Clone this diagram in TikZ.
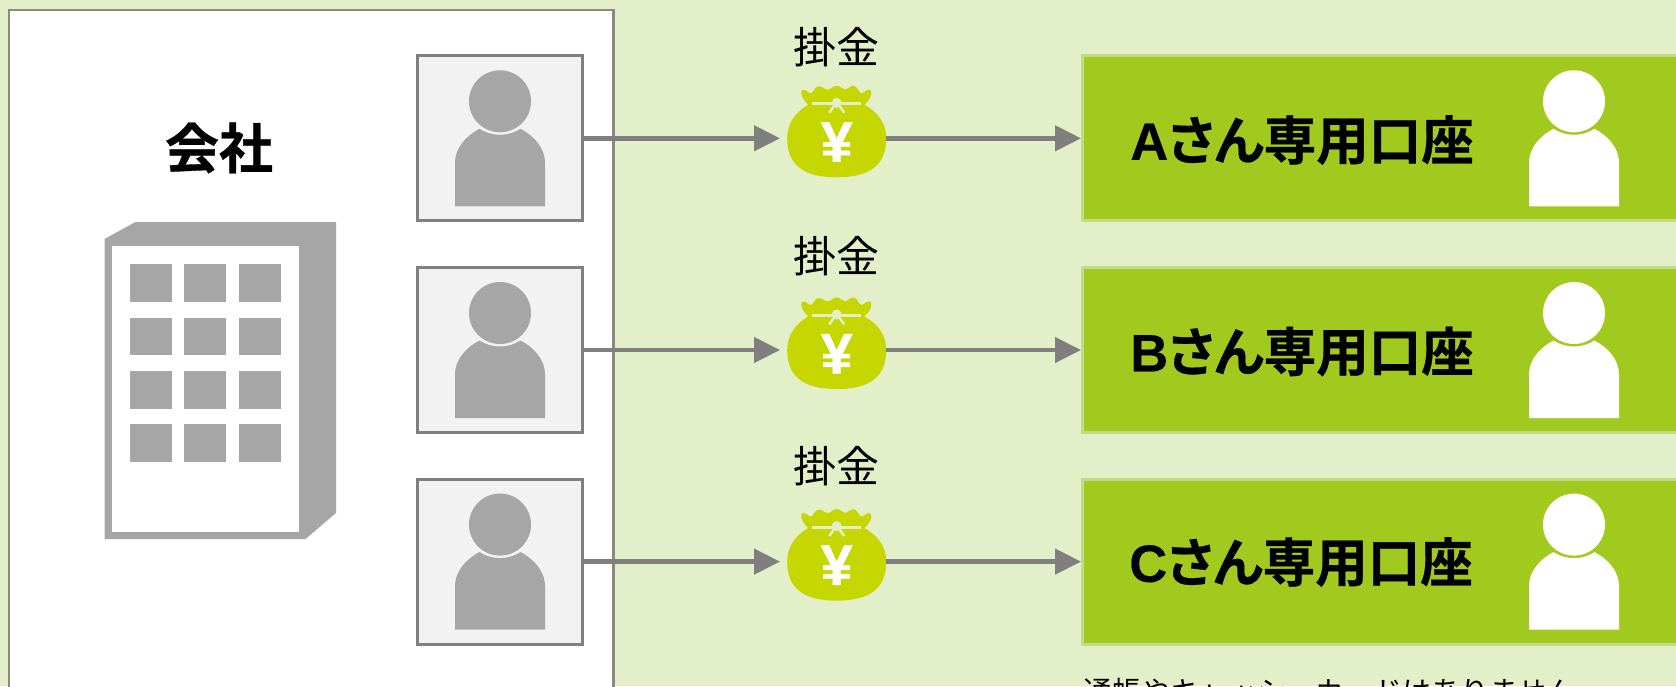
\documentclass[tikz,border=0pt]{standalone}
\usepackage{fontspec}
\setmainfont{Liberation Sans}
\newfontfamily\jpb[RawFeature=+palt,FakeBold=0.6]{Noto Sans CJK JP Bold}
\newfontfamily\jpr{Noto Sans CJK JP}
\newfontfamily\lat[FakeBold=0.3]{Liberation Sans Bold}
\newfontfamily\yenf[FakeBold=1.0]{Liberation Sans Bold}
\usetikzlibrary{arrows.meta}
\definecolor{bgc}{HTML}{E2EFC8}
\definecolor{framec}{HTML}{8A8A80}
\definecolor{grayf}{HTML}{A6A6A6}
\definecolor{boxf}{HTML}{F2F2F2}
\definecolor{lineg}{HTML}{7F7F7F}
\definecolor{acct}{HTML}{A2C91D}
\definecolor{acctb}{HTML}{C3DB86}
\definecolor{bagc}{HTML}{C5D600}
\tikzset{
  x=1pt,y=-1pt,
  empbox/.style={draw=lineg,fill=boxf,line width=3pt,minimum width=165pt,minimum height=165pt,inner sep=0pt},
  acctbox/.style={draw=acctb,fill=acct,line width=3pt,minimum width=640pt,minimum height=165pt,inner sep=0pt,anchor=west},
  flow/.style={draw=lineg,line width=4.5pt,-{Triangle[length=26pt,width=25pt]}},
  acctlabel/.style={font=\jpb\fontsize{52.5}{60}\selectfont,inner sep=0pt},
  paylabel/.style={font=\jpr\fontsize{43}{48}\selectfont,inner sep=0pt},
  yenlabel/.style={font=\yenf\fontsize{57}{60}\selectfont,text=white,inner sep=0pt},
}
\newcommand{\personshape}[3]{% x y color
  \begin{scope}[shift={(#1,#2)}]
    \fill[#3] (0,-37) circle (31);
    \fill[#3] (-45,68) -- (-45,25) .. controls (-45,8) and (-32,-3.5) .. (-20.5,-9.5)
      .. controls (-8,-1.5) and (8,-1.5) .. (20.5,-9.5)
      .. controls (32,-3.5) and (45,8) .. (45,25) -- (45,68) -- cycle;
  \end{scope}}
\newcommand{\moneybag}[2]{% x y of bag center (on arrow axis)
  \begin{scope}[shift={(#1,#2)}]
    \fill[bagc] (-35,-48) .. controls (-32,-50) and (-29,-46) .. (-26.5,-45)
      .. controls (-23,-44.5) and (-22.5,-52) .. (-18,-52)
      .. controls (-14,-52) and (-13,-49) .. (-9,-48.5)
      .. controls (-5,-49) and (-4,-52.5) .. (0,-52.5)
      .. controls (4,-52.5) and (5,-49) .. (8.5,-48.5)
      .. controls (12,-49) and (13,-52.5) .. (17,-52.5)
      .. controls (21,-52) and (22,-45) .. (25,-45)
      .. controls (28,-46) and (31,-50) .. (34,-48)
      .. controls (36,-44) and (33,-38) .. (27.5,-33.5)
      .. controls (40,-27) and (49.5,-16) .. (49.5,0)
      .. controls (49.5,26) and (34,39) .. (0,39)
      .. controls (-34,39) and (-49.5,26) .. (-49.5,0)
      .. controls (-49.5,-16) and (-40,-27) .. (-28.5,-33.5)
      .. controls (-33,-38) and (-37,-44) .. (-35,-48) -- cycle;
    \draw[bgc,line width=3pt] (-25,-34.6) -- (24.5,-34.6);
    \fill[bgc] (0,-35.5) circle (5);
    \draw[bgc,line width=2.5pt] (-3,-32) -- (-7.5,-25.5) (3,-32) -- (7.5,-25.5);
  \end{scope}}
\begin{document}
\begin{tikzpicture}
\useasboundingbox (0,0) rectangle (1676,686);
\fill[bgc] (0,0) rectangle (1676,686);
\draw[framec,line width=2.5pt,fill=white] (9,700) -- (9,10) -- (613.5,10) -- (613.5,700);

% company
\node[font=\jpb\fontsize{54}{60}\selectfont,inner sep=0pt] (co) at (219,148) {会社};
\fill[grayf] (104.5,239) -- (135.5,222) -- (336,222) -- (336,513) -- (305.5,539) -- (104.5,539) -- cycle;
\fill[white] (112,246) rectangle (298.5,532);
\foreach \wx in {129.5,184,239}
  \foreach \wy in {264,317.5,371,424}
    \fill[grayf] (\wx,\wy) rectangle +(42,37.5);

% employee boxes
\node[empbox] (e1) at (500,138.3) {};
\node[empbox] (e2) at (500,350) {};
\node[empbox] (e3) at (500,561.6) {};
\personshape{500}{138.3}{grayf}
\personshape{500}{350}{grayf}
\personshape{500}{561.6}{grayf}

% account boxes
\node[acctbox] (a1) at (1081,138.3) {};
\node[acctbox] (a2) at (1081,350) {};
\node[acctbox] (a3) at (1081,561.6) {};
\personshape{1574}{138.3}{white}
\personshape{1574}{350}{white}
\personshape{1574}{561.6}{white}
\node[acctlabel] (la) at (1302,140) {{\lat A}さん専用口座};
\node[acctlabel] (lb) at (1302,351.5) {{\lat B}さん専用口座};
\node[acctlabel] (lc) at (1301,562) {{\lat C}さん専用口座};

% money bags
\moneybag{836.7}{138.3}
\moneybag{836.7}{350}
\moneybag{836.7}{561.6}
\coordinate (b1) at (780,138.3);
\coordinate (b2) at (780,350);
\coordinate (b3) at (780,561.6);
\coordinate (c1) at (886,138.3);
\coordinate (c2) at (886,350);
\coordinate (c3) at (886,561.6);
\node[yenlabel] (y1) at (836.7,142) {¥};
\node[yenlabel] (y2) at (836.7,353.7) {¥};
\node[yenlabel] (y3) at (836.7,565.3) {¥};
\node[paylabel] (p1) at (836.5,47) {掛金};
\node[paylabel] (p2) at (836.5,256.5) {掛金};
\node[paylabel] (p3) at (836.5,466) {掛金};

% connectors
\draw[flow] (e1.east) -- (b1);
\draw[flow] (e2.east) -- (b2);
\draw[flow] (e3.east) -- (b3);
\draw[flow] (c1) -- (a1.west);
\draw[flow] (c2) -- (a2.west);
\draw[flow] (c3) -- (a3.west);

% note
\node[font=\jpr\fontsize{29}{36}\selectfont,anchor=west,inner sep=0pt] (note) at (1083,692) {通帳やキャッシュカードはありません};
\end{tikzpicture}
\end{document}
